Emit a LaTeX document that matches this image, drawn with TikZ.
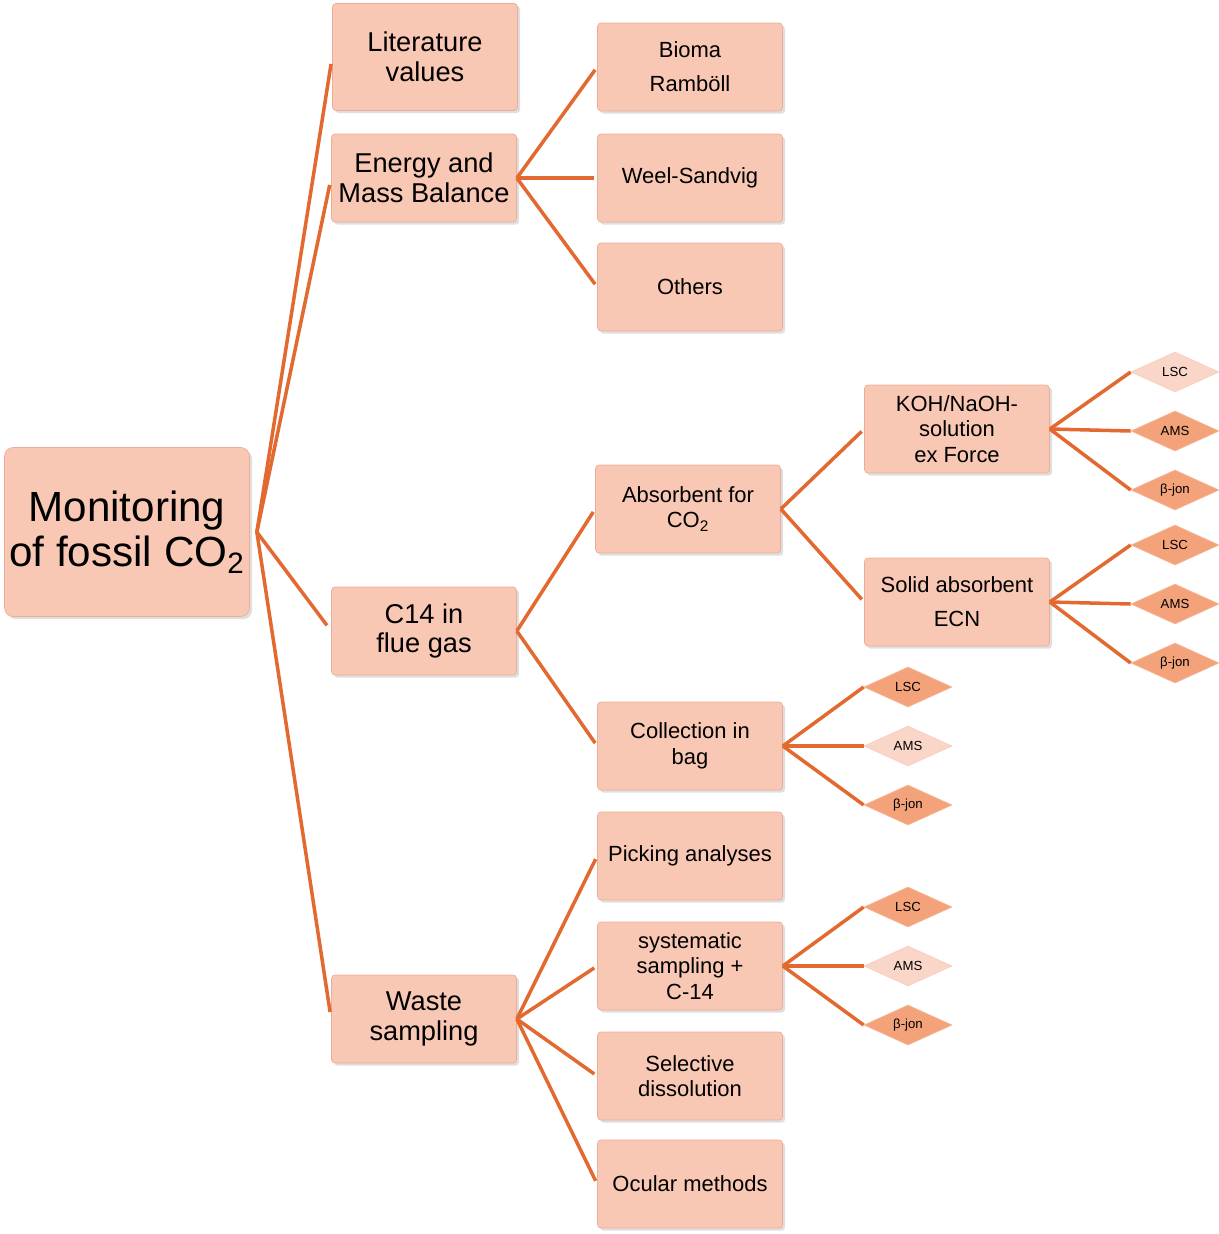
\documentclass[tikz,border=0pt]{standalone}
\usepackage{fontspec}
\setmainfont{Liberation Sans}
\usepackage{tikz}
\usetikzlibrary{shapes.geometric,shadows}
\usepackage{xcolor}
\definecolor{boxfill}{RGB}{249,200,180}
\definecolor{boxedge}{RGB}{236,172,150}
\definecolor{linkcol}{RGB}{226,106,48}
\definecolor{diadark}{RGB}{244,162,122}
\definecolor{dialight}{RGB}{250,214,200}

\begin{document}
\begin{tikzpicture}[x=0.02cm,y=-0.02cm]
\tikzset{
    b1/.style={%
        draw=boxedge, fill=boxfill,
        rectangle,
        rounded corners=2pt,
        drop shadow={opacity=0.25,shadow xshift=1.5pt,shadow yshift=-1.5pt},
        align=center,
        inner sep=1pt,
        minimum height=1.76cm,
        minimum width=3.7cm
        },
    b0/.style={%
        b1,
        rounded corners=5pt,
        minimum height=3.38cm,
        minimum width=4.9cm,
        font=\fontsize{24}{26}\selectfont
        },
    b2/.style={b1, font=\fontsize{15.5}{17}\selectfont},
    b3/.style={b1, font=\fontsize{12.5}{14.5}\selectfont},
    dia/.style={%
        diamond,
        fill=diadark,
        draw=diadark!80!white,
        aspect=2.2,
        inner sep=0pt,
        minimum width=1.76cm,
        minimum height=0.8cm,
        font=\fontsize{7.5}{8}\selectfont
        },
    dial/.style={dia, fill=dialight, draw=dialight!85!diadark},
    link/.style={draw=linkcol, line width=2pt}
}
\useasboundingbox (0,0) rectangle (1219,1234);
%%%ROOT
\node[b0] (m) at (127,532) {Monitoring\\of fossil CO\textsubscript{2}};
%%%FIRST LEVEL
\node[b2, minimum height=2.14cm] (lit) at (425,57) {Literature\\values};
\node[b2] (emb) at (424,178) {Energy and\\Mass Balance};
\node[b2] (c14) at (424,631) {C14 in\\flue gas};
\node[b2] (ws) at (424,1019) {Waste\\sampling};
%%%SECOND LEVEL
\node[b3] (bio) at (690,67) {Bioma\\[5pt]Ramböll};
\node[b3] (wee) at (690,178) {Weel-Sandvig};
\node[b3] (oth) at (690,287) {Others};
\node[b3] (abs) at (688,509) {Absorbent for\\CO\textsubscript{2}};
\node[b3] (bag) at (690,746) {Collection in\\bag};
\node[b3] (pick) at (690,856) {Picking analyses};
\node[b3] (sys) at (690,966) {systematic\\sampling +\\C-14};
\node[b3] (sel) at (690,1076) {Selective\\dissolution};
\node[b3] (ocu) at (690,1184) {Ocular methods};
%%%THIRD LEVEL
\node[b3] (koh) at (957,429) {KOH/NaOH-\\solution\\ex Force};
\node[b3] (sol) at (957,602) {Solid absorbent\\[5pt]ECN};
%%%ANALYSES
\node[dial] (k1) at (1175,372) {LSC};
\node[dia] (k2) at (1175,431) {AMS};
\node[dia] (k3) at (1175,490) {β-jon};
\node[dia] (s1) at (1175,545) {LSC};
\node[dia] (s2) at (1175,604) {AMS};
\node[dia] (s3) at (1175,663) {β-jon};
\node[dia] (g1) at (908,687) {LSC};
\node[dial] (g2) at (908,746) {AMS};
\node[dia] (g3) at (908,805) {β-jon};
\node[dia] (y1) at (908,907) {LSC};
\node[dial] (y2) at (908,966) {AMS};
\node[dia] (y3) at (908,1025) {β-jon};
%%%LINKS
\foreach \c in {lit,emb,c14,ws}
    \draw[link, shorten >=4pt] ([xshift=4pt]m.east) -- (\c.west);
\foreach \c in {bio,wee,oth}
    \draw[link, shorten >=2pt] (emb.east) -- (\c.west);
\foreach \c in {abs,bag}
    \draw[link, shorten >=2pt] (c14.east) -- (\c.west);
\foreach \c in {pick,sys,sel,ocu}
    \draw[link, shorten >=2pt] (ws.east) -- (\c.west);
\foreach \c in {koh,sol}
    \draw[link, shorten >=2pt] (abs.east) -- (\c.west);
\foreach \c in {k1,k2,k3}
    \draw[link] (koh.east) -- (\c.west);
\foreach \c in {s1,s2,s3}
    \draw[link] (sol.east) -- (\c.west);
\foreach \c in {g1,g2,g3}
    \draw[link] (bag.east) -- (\c.west);
\foreach \c in {y1,y2,y3}
    \draw[link] (sys.east) -- (\c.west);
\end{tikzpicture}
\end{document}
